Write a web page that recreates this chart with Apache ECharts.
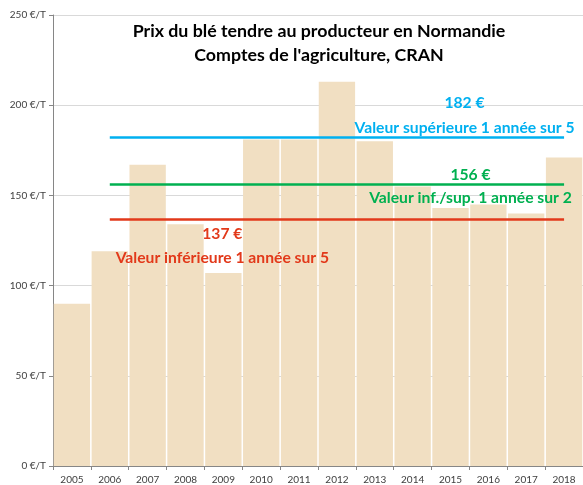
<!DOCTYPE html>
<html>
<head>
<meta charset="utf-8">
<script src="https://cdn.jsdelivr.net/npm/echarts@6/dist/echarts.min.js"></script>
<style>
  html, body { margin: 0; padding: 0; background: #fff; }
  #chart { width: 583px; height: 485px; }
</style>
</head>
<body>
<div id="chart"></div>
<script>
// données
const years = ['2005', '2006', '2007', '2008', '2009', '2010', '2011', '2012', '2013', '2014', '2015', '2016', '2017', '2018'];
const prices = [90, 119, 167, 134, 107, 181, 181, 213, 180, 155, 143, 145, 140, 171];

// seuils
const upper5 = 182;   // valeur supérieure 1 année sur 5
const median = 156;   // valeur inf./sup. 1 année sur 2
const lower5 = 137;   // valeur inférieure 1 année sur 5

const lineStart = '2006';
const lineEnd = '2018';
const labelYearRight = '2015';
const labelYearLeft = '2009';

const font = 'Lato, "Liberation Sans", sans-serif';
const blue = '#00B0F0';
const green = '#00B050';
const red = '#E2391A';

const chart = echarts.init(document.getElementById('chart'));

function hline(value, color) {
  return [
    { coord: [lineStart, value], lineStyle: { color: color, width: 2.5, type: 'solid' } },
    { coord: [lineEnd, value] }
  ];
}

function note(year, value, text, color, dx, dy) {
  return {
    coord: [year, value],
    symbolSize: 0,
    label: {
      show: true, position: 'inside', formatter: text, offset: [dx, dy],
      color: color, fontFamily: font, fontWeight: 'bold', fontSize: 15.7
    }
  };
}

const option = {
  animation: false,
  title: {
    text: "Prix du blé tendre au producteur en Normandie\nComptes de l'agriculture, CRAN",
    left: 314, top: 14, textAlign: 'center',
    textStyle: { fontFamily: font, fontWeight: 'bold', fontSize: 17.8, color: '#000', lineHeight: 24 }
  },
  grid: { left: 53, right: 0, top: 15, bottom: 19, containLabel: false },
  xAxis: {
    type: 'category',
    data: years,
    boundaryGap: true,
    axisLine: { lineStyle: { color: '#868686' } },
    axisTick: { show: true, length: 4, lineStyle: { color: '#868686' } },
    axisLabel: { color: '#404040', fontFamily: font, fontSize: 10, margin: 9 }
  },
  yAxis: {
    type: 'value',
    min: 0, max: 250, interval: 50,
    axisLine: { show: true, lineStyle: { color: '#868686' } },
    axisTick: { show: true, length: 4, lineStyle: { color: '#868686' } },
    splitLine: { lineStyle: { color: '#D9D9D9' } },
    axisLabel: { formatter: '{value} €/T', color: '#404040', fontFamily: font, fontSize: 10, margin: 7 }
  },
  series: [{
    type: 'bar',
    data: prices,
    barCategoryGap: '4%',
    itemStyle: { color: '#F1DFC2' },
    markLine: {
      silent: true,
      symbol: 'none',
      label: { show: false },
      data: [hline(upper5, blue), hline(median, green), hline(lower5, red)]
    },
    markPoint: {
      silent: true,
      data: [
        note(labelYearRight, upper5, upper5 + ' €', blue, 14, -35),
        note(labelYearRight, upper5, 'Valeur supérieure 1 année sur 5', blue, 14, -10),
        note(labelYearRight, median, median + ' €', green, 20, -10),
        note(labelYearRight, median, 'Valeur inf./sup. 1 année sur 2', green, 20, 13),
        note(labelYearLeft, lower5, lower5 + ' €', red, -1, 15),
        note(labelYearLeft, lower5, 'Valeur inférieure 1 année sur 5', red, -1, 39)
      ]
    }
  }]
};

chart.setOption(option);
</script>
</body>
</html>
